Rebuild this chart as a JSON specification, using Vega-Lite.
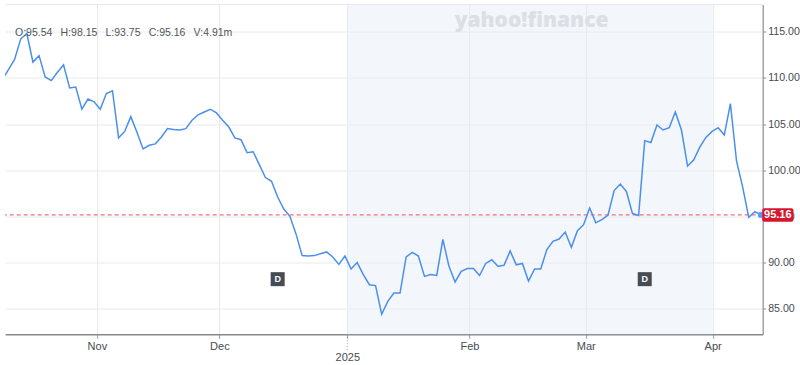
{
  "$schema": "https://vega.github.io/schema/vega-lite/v6.json",
  "width": 757.6,
  "height": 329.8,
  "autosize": {"type": "none"},
  "padding": {"left": 5.1, "top": 4.5, "right": 37.3, "bottom": 30.7},
  "background": "white",
  "config": {
    "view": {"stroke": null},
    "font": "Liberation Sans",
    "axis": {"title": null}
  },
  "datasets": {
    "prices": [
      {"i":0,"c":109.8},{"i":1,"c":110.9},{"i":2,"c":112.0},{"i":3,"c":114.2},{"i":4,"c":114.8},
      {"i":5,"c":111.7},{"i":6,"c":112.4},{"i":7,"c":110.1},{"i":8,"c":109.7},{"i":9,"c":110.6},
      {"i":10,"c":111.4},{"i":11,"c":108.9},{"i":12,"c":109.0},{"i":13,"c":106.6},{"i":14,"c":107.7},
      {"i":15,"c":107.4},{"i":16,"c":106.6},{"i":17,"c":108.3},{"i":18,"c":108.6},{"i":19,"c":103.5},
      {"i":20,"c":104.2},{"i":21,"c":105.8},{"i":22,"c":104.1},{"i":23,"c":102.3},{"i":24,"c":102.7},
      {"i":25,"c":102.85},{"i":26,"c":103.6},{"i":27,"c":104.5},{"i":28,"c":104.4},{"i":29,"c":104.35},
      {"i":30,"c":104.5},{"i":31,"c":105.4},{"i":32,"c":106.0},{"i":33,"c":106.3},{"i":34,"c":106.6},
      {"i":35,"c":106.2},{"i":36,"c":105.4},{"i":37,"c":104.7},{"i":38,"c":103.5},{"i":39,"c":103.3},
      {"i":40,"c":101.9},{"i":41,"c":102.0},{"i":42,"c":100.6},{"i":43,"c":99.2},{"i":44,"c":98.8},
      {"i":45,"c":97.1},{"i":46,"c":95.8},{"i":47,"c":95.0},{"i":48,"c":93.1},{"i":49,"c":90.75},
      {"i":50,"c":90.7},{"i":51,"c":90.75},{"i":52,"c":90.95},{"i":53,"c":91.15},{"i":54,"c":90.6},
      {"i":55,"c":89.8},{"i":56,"c":90.7},{"i":57,"c":89.3},{"i":58,"c":90.0},{"i":59,"c":88.7},
      {"i":60,"c":87.6},{"i":61,"c":87.5},{"i":62,"c":84.4},{"i":63,"c":85.8},{"i":64,"c":86.7},
      {"i":65,"c":86.7},{"i":66,"c":90.6},{"i":67,"c":91.1},{"i":68,"c":90.7},{"i":69,"c":88.5},
      {"i":70,"c":88.7},{"i":71,"c":88.6},{"i":72,"c":92.5},{"i":73,"c":89.6},{"i":74,"c":87.9},
      {"i":75,"c":89.05},{"i":76,"c":89.35},{"i":77,"c":89.35},{"i":78,"c":88.6},{"i":79,"c":89.9},
      {"i":80,"c":90.3},{"i":81,"c":89.6},{"i":82,"c":89.7},{"i":83,"c":91.25},{"i":84,"c":89.75},
      {"i":85,"c":89.9},{"i":86,"c":88.0},{"i":87,"c":89.3},{"i":88,"c":89.3},{"i":89,"c":91.4},
      {"i":90,"c":92.3},{"i":91,"c":92.55},{"i":92,"c":93.3},{"i":93,"c":91.65},{"i":94,"c":93.45},
      {"i":95,"c":94.1},{"i":96,"c":95.9},{"i":97,"c":94.3},{"i":98,"c":94.65},{"i":99,"c":95.15},
      {"i":100,"c":97.8},{"i":101,"c":98.5},{"i":102,"c":97.7},{"i":103,"c":95.3},{"i":104,"c":95.1},
      {"i":105,"c":103.2},{"i":106,"c":103.0},{"i":107,"c":104.9},{"i":108,"c":104.35},{"i":109,"c":104.6},
      {"i":110,"c":106.3},{"i":111,"c":104.35},{"i":112,"c":100.45},{"i":113,"c":101.1},{"i":114,"c":102.5},
      {"i":115,"c":103.55},{"i":116,"c":104.2},{"i":117,"c":104.6},{"i":118,"c":103.8},{"i":119,"c":107.2},
      {"i":120,"c":101.0},{"i":121,"c":98.2},{"i":122,"c":94.9},{"i":123,"c":95.5},{"i":124,"c":95.16}
    ]
  },
  "layer": [
    {
      "data": {"values": [{"period": "2025"}]},
      "mark": {"type": "rect", "fill": "#e7edf5", "opacity": 0.5},
      "encoding": {
        "x": {"datum": 56.38, "type": "quantitative", "scale": {"domain": [0.45, 124.28], "nice": false, "zero": false}},
        "x2": {"datum": 116.1}
      }
    },
    {
      "data": {"values": [{"w": "yahoo!finance"}]},
      "mark": {"type": "text", "font": "Open Sans", "fontWeight": 800, "fontSize": 21, "fill": "#dcdfe5", "align": "center", "baseline": "middle"},
      "encoding": {
        "x": {"datum": 86.5, "type": "quantitative", "scale": {"domain": [0.45, 124.28], "nice": false, "zero": false}},
        "y": {"datum": 116.15, "type": "quantitative", "scale": {"domain": [82.23, 117.94], "nice": false, "zero": false}},
        "text": {"field": "w"}
      }
    },
    {
      "data": {"values": [{"edge": "top"}]},
      "mark": {"type": "rule", "color": "#e6e8eb", "strokeWidth": 1},
      "encoding": {
        "y": {"datum": 117.94, "type": "quantitative", "scale": {"domain": [82.23, 117.94], "nice": false, "zero": false}}
      }
    },
    {
      "data": {"values": [{"year": "2025"}]},
      "mark": {"type": "rule", "color": "#9aa0a6", "strokeDash": [1, 2], "strokeWidth": 1},
      "encoding": {
        "x": {"datum": 56.38, "type": "quantitative", "scale": {"domain": [0.45, 124.28], "nice": false, "zero": false}},
        "y": {"datum": 82.23, "type": "quantitative", "scale": {"domain": [82.23, 117.94], "nice": false, "zero": false}},
        "y2": {"datum": 80.4}
      }
    },
    {
      "data": {"values": [{"c": 95.16}]},
      "mark": {"type": "rule", "color": "#ee7380", "strokeDash": [4, 3], "strokeWidth": 1.2},
      "encoding": {
        "y": {"field": "c", "type": "quantitative", "scale": {"domain": [82.23, 117.94], "nice": false, "zero": false}}
      }
    },
    {
      "data": {"name": "prices"},
      "encoding": {
        "x": {
          "field": "i", "type": "quantitative",
          "scale": {"domain": [0.45, 124.28], "nice": false, "zero": false},
          "axis": {
            "values": [15.45, 35.47, 56.38, 76.34, 95.35, 116.1],
            "labelExpr": "datum.value < 20 ? 'Nov' : datum.value < 40 ? 'Dec' : datum.value < 60 ? ['', '2025'] : datum.value < 80 ? 'Feb' : datum.value < 100 ? 'Mar' : 'Apr'",
            "grid": true, "gridColor": "#e6e8eb", "gridWidth": 1,
            "domainColor": "#84898e", "domainWidth": 1.5,
            "tickColor": "#9a9ea3", "tickSize": 4,
            "labelFontSize": 11, "labelColor": "#464c52", "labelPadding": 2,
            "labelLineHeight": 11, "labelFlush": false, "labelOverlap": false
          }
        },
        "y": {
          "field": "c", "type": "quantitative",
          "scale": {"domain": [82.23, 117.94], "nice": false, "zero": false},
          "axis": {
            "orient": "right",
            "values": [85, 90, 95, 100, 105, 110, 115],
            "format": ".2f",
            "grid": true, "gridColor": "#e8eaed", "gridWidth": 1,
            "domainColor": "#8a8f94", "domainWidth": 1.2,
            "tickColor": "#8a8f94", "tickSize": 3,
            "labelFontSize": 10.6, "labelColor": "#464c52", "labelPadding": 2
          }
        }
      },
      "layer": [
        {"mark": {"type": "line", "color": "#4b8fee", "strokeWidth": 1.5, "clip": true}},
        {
          "transform": [{"filter": "datum.i == 124"}],
          "mark": {"type": "point", "filled": true, "size": 40, "color": "#5a9cf5", "opacity": 1}
        }
      ]
    },
    {
      "data": {"values": [{"i": 45, "label": "D"}, {"i": 105, "label": "D"}]},
      "mark": {"type": "point", "shape": "square", "filled": true, "size": 196, "color": "#464c54", "opacity": 1},
      "encoding": {
        "x": {"field": "i", "type": "quantitative", "scale": {"domain": [0.45, 124.28], "nice": false, "zero": false}},
        "y": {"datum": 88.2, "type": "quantitative", "scale": {"domain": [82.23, 117.94], "nice": false, "zero": false}}
      }
    },
    {
      "data": {"values": [{"i": 45, "label": "D"}, {"i": 105, "label": "D"}]},
      "mark": {"type": "text", "fontSize": 9, "fontWeight": "bold", "color": "white", "align": "center", "baseline": "middle"},
      "encoding": {
        "x": {"field": "i", "type": "quantitative", "scale": {"domain": [0.45, 124.28], "nice": false, "zero": false}},
        "y": {"datum": 88.2, "type": "quantitative", "scale": {"domain": [82.23, 117.94], "nice": false, "zero": false}},
        "text": {"field": "label"}
      }
    },
    {
      "data": {"values": [{"c": 95.16, "label": "95.16"}]},
      "mark": {"type": "rect", "fill": "#d7162e", "cornerRadius": 2, "clip": false},
      "encoding": {
        "x": {"datum": 124.2, "type": "quantitative", "scale": {"domain": [0.45, 124.28], "nice": false, "zero": false}},
        "x2": {"datum": 129.3},
        "y": {"datum": 94.42, "type": "quantitative", "scale": {"domain": [82.23, 117.94], "nice": false, "zero": false}},
        "y2": {"datum": 95.88}
      }
    },
    {
      "data": {"values": [{"c": 95.16, "label": "95.16"}]},
      "mark": {"type": "text", "fontSize": 11, "fontWeight": "bold", "color": "white", "align": "center", "baseline": "middle"},
      "encoding": {
        "x": {"datum": 126.75, "type": "quantitative", "scale": {"domain": [0.45, 124.28], "nice": false, "zero": false}},
        "y": {"field": "c", "type": "quantitative", "scale": {"domain": [82.23, 117.94], "nice": false, "zero": false}},
        "text": {"field": "label"}
      }
    },
    {
      "data": {"values": [{"t": "O:95.54\u00a0\u2002H:98.15\u00a0\u2002L:93.75\u00a0\u2002C:95.16\u00a0\u2002V:4.91m"}]},
      "mark": {"type": "text", "fontSize": 10.5, "color": "#50575e", "align": "left", "baseline": "middle"},
      "encoding": {
        "x": {"datum": 2.07, "type": "quantitative", "scale": {"domain": [0.45, 124.28], "nice": false, "zero": false}},
        "y": {"datum": 114.82, "type": "quantitative", "scale": {"domain": [82.23, 117.94], "nice": false, "zero": false}},
        "text": {"field": "t"}
      }
    }
  ]
}
